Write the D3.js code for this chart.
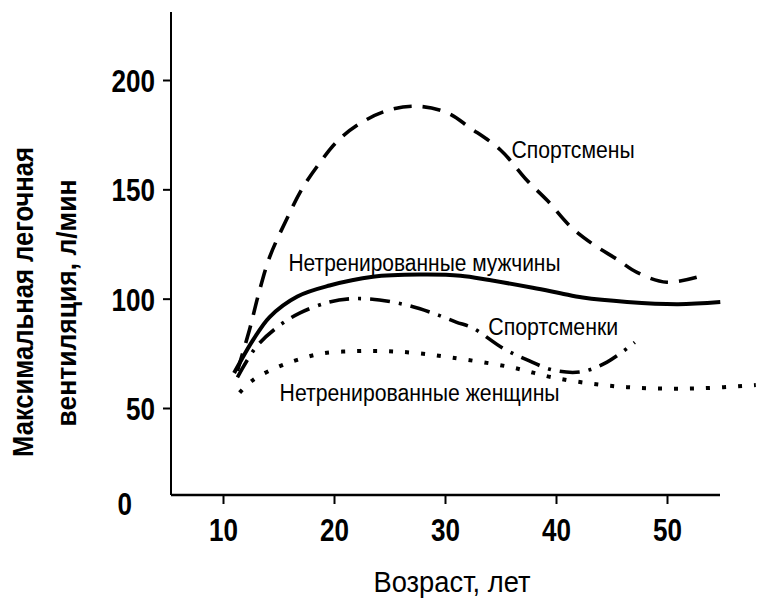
<!DOCTYPE html>
<html><head><meta charset="utf-8">
<script src="https://cdn.jsdelivr.net/npm/d3@7"></script>
<style>
body{margin:0;background:#fff;}
text{font-family:"Liberation Sans Narrow","Arial Narrow","Liberation Sans",sans-serif;fill:#000;}
</style></head><body>
<svg id="c" width="759" height="598"></svg>
<script>
// ---- data ----
const xTicks = [10, 20, 30, 40, 50];
const yTicks = [50, 100, 150, 200];
const seriesNames = ["Спортсмены", "Нетренированные мужчины", "Спортсменки", "Нетренированные женщины"];

const sportsmenAge = [11.3, 12.4, 13.2, 14.2, 15.8, 17.1, 18.7, 20.3, 22.3, 24.8, 27.5, 30.2, 32.3, 35, 37.4, 39.2, 41.3, 43.3, 45.5, 47.3, 50, 53.2];
const sportsmenVal = [67, 86, 102, 119, 137, 150, 162, 172, 180, 186, 188, 185, 178, 168, 154, 145, 133, 125, 118, 112, 107.5, 110.5];

const menAge = [11.0, 11.5, 12.7, 14.2, 16.7, 19.6, 23.5, 27.7, 31.4, 34, 37.9, 40.4, 42.4, 46.4, 51, 54.8];
const menVal = [66, 70.6, 81, 91.6, 101, 106, 110, 111, 110.5, 108.5, 105, 102.5, 100.5, 98.5, 97.5, 98.5];

const sportswomenAge = [11.3, 13, 14.9, 16.9, 19.6, 21.7, 24.1, 26.6, 28.9, 31, 32.5, 35.2, 37.4, 39.7, 42.2, 44.6, 47.1];
const sportswomenVal = [64, 78, 87, 93.4, 98.5, 100, 99.4, 97, 93.4, 89.3, 86.6, 77.4, 72, 67.4, 66.5, 71, 80];

const womenAge = [11.5, 12.7, 14.9, 16.7, 19, 22, 24.8, 27.7, 30.7, 35.9, 39.7, 44.2, 48.5, 53, 58];
const womenVal = [57, 62.8, 68.7, 72, 75, 76, 76, 75, 73, 68.7, 64, 60.5, 59, 59, 60.5];

// label anchors in data units (age, value)
const labelAge = [36.0, 15.9, 33.9, 15.1];
const labelVal = [164.3, 112.6, 83.4, 53.2];

// ---- chart ----
const svg = d3.select("#c");
const x = d3.scaleLinear().domain([10, 50]).range([223, 667]);
const y = d3.scaleLinear().domain([0, 50, 200, 230]).range([503, 408, 80, 14]);
const baseY = 495, axisX = 171;
const DIGIT = 14.5; // condensed digit width

function squeeze(sel, w) {
  sel.attr("textLength", w).attr("lengthAdjust", "spacingAndGlyphs");
}

// y axis
const yAxis = d3.axisLeft(y).tickValues(yTicks).tickSize(8).tickPadding(8).tickFormat(d3.format("d"));
const gy = svg.append("g").attr("transform", `translate(${axisX},0)`).call(yAxis);
gy.select(".domain").remove();
gy.selectAll(".tick line").attr("stroke", "#000").attr("stroke-width", 2);
gy.selectAll(".tick text").attr("font-size", 32).attr("font-weight", "bold").attr("dy", "0.36em")
  .each(function(d){ squeeze(d3.select(this), String(d).length * DIGIT); });
svg.append("line").attr("x1", axisX).attr("x2", axisX).attr("y1", 12).attr("y2", baseY)
  .attr("stroke", "#000").attr("stroke-width", 2);
svg.append("text").attr("x", 132).attr("y", y(0)).attr("dy", "0.36em").attr("text-anchor", "end")
  .attr("font-size", 32).attr("font-weight", "bold").text("0").call(squeeze, DIGIT);

// x axis
const xAxis = d3.axisBottom(x).tickValues(xTicks).tickSize(9).tickPadding(14).tickFormat(d3.format("d"));
const gx = svg.append("g").attr("transform", `translate(0,${baseY})`).call(xAxis);
gx.select(".domain").remove();
gx.selectAll(".tick line").attr("stroke", "#000").attr("stroke-width", 2);
gx.selectAll(".tick text").attr("font-size", 32).attr("font-weight", "bold")
  .each(function(d){ squeeze(d3.select(this), String(d).length * DIGIT); });
svg.append("line").attr("x1", axisX).attr("x2", 720).attr("y1", baseY).attr("y2", baseY)
  .attr("stroke", "#000").attr("stroke-width", 2.5);

// axis titles
svg.append("text").attr("x", 452).attr("y", 592).attr("text-anchor", "middle")
  .attr("font-size", 29).text("Возраст, лет").call(squeeze, 157);
svg.append("text").attr("transform", "translate(33,302) rotate(-90)").attr("text-anchor", "middle")
  .attr("font-size", 30).attr("font-weight", "bold").text("Максимальная легочная").call(squeeze, 310);
svg.append("text").attr("transform", "translate(76,303) rotate(-90)").attr("text-anchor", "middle")
  .attr("font-size", 27).attr("font-weight", "bold").text("вентиляция, л/мин").call(squeeze, 247);

// series
const line = d3.line().x(d => x(d[0])).y(d => y(d[1])).curve(d3.curveCatmullRom.alpha(0.5));
const series = [
  {a: sportsmenAge, v: sportsmenVal, dash: "18,11", w: 3.6},
  {a: menAge, v: menVal, dash: null, w: 4},
  {a: sportswomenAge, v: sportswomenVal, dash: "20,9,3,9", w: 3.6},
  {a: womenAge, v: womenVal, dash: "4,12", w: 4}
];
series.forEach(s => {
  const pts = s.a.map((a, i) => [a, s.v[i]]);
  const p = svg.append("path").attr("d", line(pts)).attr("fill", "none")
    .attr("stroke", "#000").attr("stroke-width", s.w);
  if (s.dash) p.attr("stroke-dasharray", s.dash);
});

// series labels
const labelWidths = [123, 272, 130, 280];
seriesNames.forEach((n, i) => {
  svg.append("text").attr("x", x(labelAge[i])).attr("y", y(labelVal[i]))
    .attr("font-size", 23).text(n).call(squeeze, labelWidths[i]);
});
</script></body></html>
